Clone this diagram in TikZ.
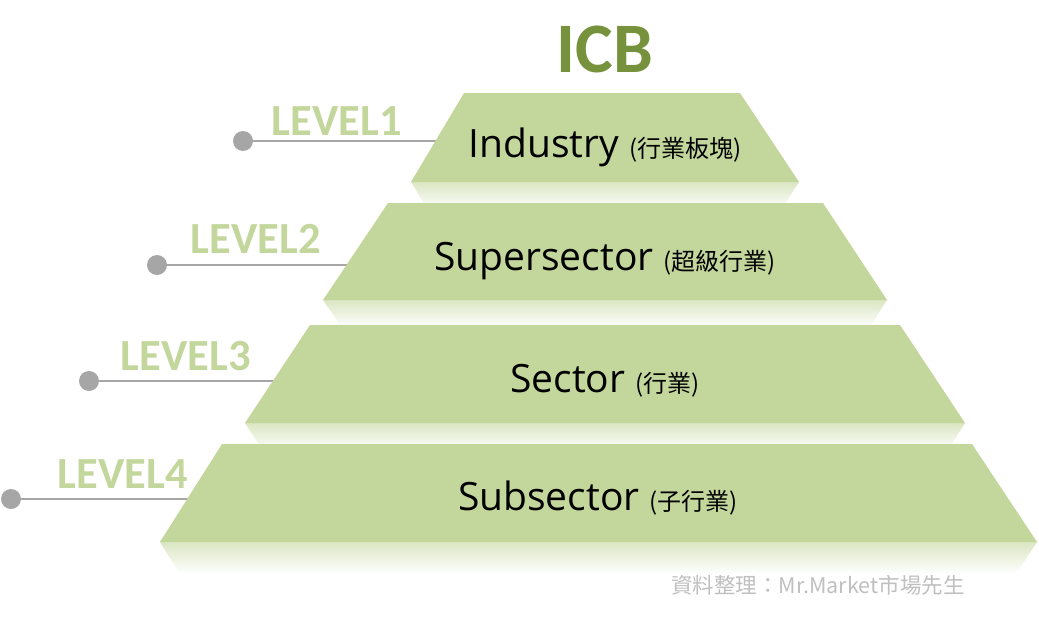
\documentclass[tikz,border=0pt]{standalone}
\usepackage{fontspec}
\setmainfont{Open Sans}
\newfontfamily\cjkfont{Noto Sans CJK TC}
\newfontfamily\lvlfont{Carlito}
\usetikzlibrary{
    positioning,
    calc
}
\definecolor{icbGreen}{RGB}{118,146,60}
\definecolor{tierFill}{RGB}{195,214,155}
\definecolor{lineGray}{RGB}{166,166,166}
\definecolor{noteGray}{RGB}{191,191,191}
\tikzset{
  tier/.style     = {fill=tierFill, draw=none},
  tierglow/.style = {top color=tierFill!60, bottom color=white, draw=none},
  lvl/.style      = {font=\lvlfont\bfseries\fontsize{44.5}{45}\selectfont,
                     text=tierFill, anchor=base east, inner sep=0pt},
  leaddot/.style  = {circle, fill=lineGray, minimum size=20pt, inner sep=0pt},
  leadline/.style = {lineGray, line width=2.5pt},
  tiertext/.style = {font=\fontsize{39}{41}\selectfont, anchor=base, inner sep=0pt}
}
\newcommand{\zh}[1]{{\cjkfont\fontsize{24}{25}\selectfont #1}}

\begin{document}
\begin{tikzpicture}[x=1pt, y=-1pt]
        \useasboundingbox (0,0) rectangle (1039,642);

        % ── TITLE ──
        \node[font=\lvlfont\bfseries\fontsize{71}{71}\selectfont, text=icbGreen,
              anchor=base, inner sep=0pt] (ICB) at (605,73) {ICB};

        % ── LEADERS ──
        \node[leaddot] (D1) at (243,141) {};
        \node[leaddot] (D2) at (157,265) {};
        \node[leaddot] (D3) at (89,381)  {};
        \node[leaddot] (D4) at (11,499)  {};
        \coordinate (E1) at (450,141);
        \coordinate (E2) at (370,265);
        \coordinate (E3) at (290,381);
        \coordinate (E4) at (210,499);
        \draw[leadline] (D1) -- (E1);
        \draw[leadline] (D2) -- (E2);
        \draw[leadline] (D3) -- (E3);
        \draw[leadline] (D4) -- (E4);

        \node[lvl] (V1) at (402,135) {LEVEL1};
        \node[lvl] (V2) at (321,253) {LEVEL2};
        \node[lvl] (V3) at (251,370) {LEVEL3};
        \node[lvl] (V4) at (188,488) {LEVEL4};

        % ── REFLECTIONS ──
        \shade[tierglow] (411,182) -- (799,182) -- (781,210) -- (428,210) -- cycle;
        \shade[tierglow] (323,300) -- (887,300) -- (869,328) -- (342,328) -- cycle;
        \shade[tierglow] (245,423) -- (965,423) -- (947,451) -- (263,451) -- cycle;
        \shade[tierglow] (160,542) -- (1037,542) -- (1016,574) -- (180,574) -- cycle;

        % ── PYRAMID ──
        \fill[tier] (464,93)  -- (740,93)  -- (799,182)  -- (411,182) -- cycle;
        \fill[tier] (388,203) -- (823,203) -- (887,300)  -- (323,300) -- cycle;
        \fill[tier] (310,325) -- (900,325) -- (965,423)  -- (245,423) -- cycle;
        \fill[tier] (222,444) -- (972,444) -- (1037,542) -- (160,542) -- cycle;

        \node[tiertext] (T_ind) at (605,157) {Industry \zh{(行業板塊)}};
        \node[tiertext] (T_sup) at (605,270) {Supersector \zh{(超級行業)}};
        \node[tiertext] (T_sec) at (605,392) {Sector \zh{(行業)}};
        \node[tiertext] (T_sub) at (598,510) {Subsector \zh{(子行業)}};

        % ── SOURCE ──
        \node[font=\cjkfont\fontsize{21.5}{22}\selectfont, text=noteGray,
              anchor=base, inner sep=0pt] (SRC) at (818,593)
              {資料整理：Mr.Market市場先生};
      \end{tikzpicture}
\end{document}
